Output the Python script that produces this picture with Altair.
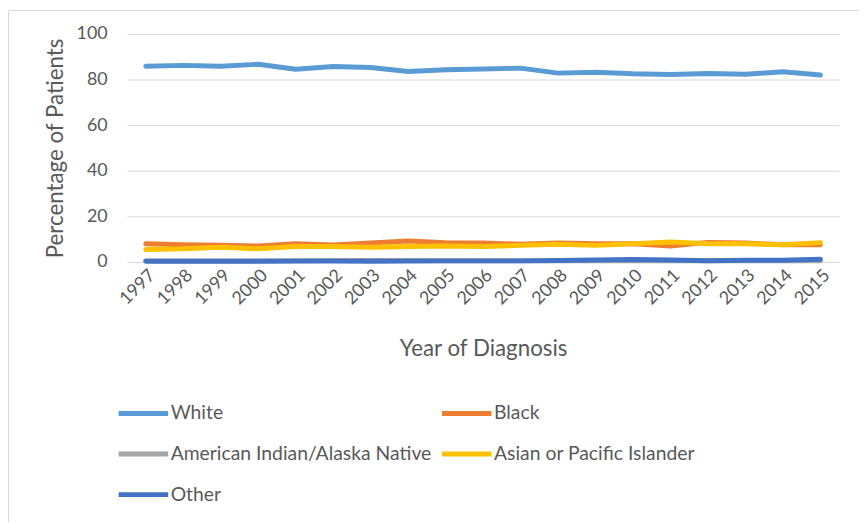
import altair as alt
import pandas as pd

years = [str(y) for y in range(1997, 2016)]
series = ["White", "Black", "American Indian/Alaska Native", "Asian or Pacific Islander", "Other"]
colors = ["#5B9BD5", "#ED7D31", "#A5A5A5", "#FFC000", "#4472C4"]

white = [85.8, 86.2, 85.8, 86.7, 84.5, 85.7, 85.3, 83.5, 84.3, 84.6, 85.0, 82.8, 83.2, 82.5, 82.2, 82.6, 82.3, 83.4, 82.0]
black = [8.0, 7.6, 7.4, 7.0, 8.0, 7.5, 8.3, 9.2, 8.5, 8.3, 7.8, 8.3, 8.0, 8.0, 7.0, 8.6, 8.3, 7.6, 7.6]
aian = [0.5, 0.5, 0.5, 0.5, 0.6, 0.7, 0.7, 0.7, 0.6, 0.6, 0.6, 0.6, 0.6, 0.6, 0.6, 0.6, 0.6, 0.6, 0.6]
asian = [5.5, 5.8, 6.5, 5.8, 6.8, 6.8, 6.5, 6.8, 7.0, 6.8, 7.3, 7.8, 7.3, 8.0, 8.8, 8.0, 8.0, 7.6, 8.5]
other = [0.3, 0.3, 0.3, 0.3, 0.4, 0.4, 0.3, 0.4, 0.5, 0.5, 0.5, 0.7, 0.9, 1.1, 0.9, 0.6, 0.8, 0.8, 1.2]

values = [white, black, aian, asian, other]
rows = []
for s, vals in zip(series, values):
    for y, v in zip(years, vals):
        rows.append({"Year": y, "Series": s, "Value": v})
df = pd.DataFrame(rows)

FONT = "Lato"
TXT = "#595959"

lines = alt.Chart(df).mark_line(strokeWidth=5, strokeCap="round", strokeJoin="round").encode(
    x=alt.X("Year:N", sort=years, title="Year of Diagnosis",
            scale=alt.Scale(paddingInner=0, paddingOuter=0.5),
            axis=alt.Axis(labelAngle=-45, ticks=False, domain=True, domainColor="#D9D9D9",
                          labelFontSize=18, labelPadding=4, titleFontSize=22.5,
                          titlePadding=30, grid=False)),
    y=alt.Y("Value:Q", title="Percentage of Patients",
            scale=alt.Scale(domain=[0, 100]),
            axis=alt.Axis(values=[0, 20, 40, 60, 80, 100], ticks=False, domain=False,
                          labelFontSize=18, labelPadding=20, titleFontSize=22.5,
                          titlePadding=9, gridColor="#D9D9D9")),
    color=alt.Color("Series:N", sort=series,
                    scale=alt.Scale(domain=series, range=colors),
                    legend=alt.Legend(title=None, orient="none", legendX=-11, legendY=355,
                                      direction="horizontal",
                                      columns=2, columnPadding=0, rowPadding=3,
                                      symbolType="stroke", symbolSize=2500,
                                      symbolStrokeWidth=5, labelFontSize=19.5,
                                      labelLimit=400,
                                      labelOffset=0, labelColor=TXT, labelFont=FONT)),
    detail="Series:N",
)

border = alt.Chart(pd.DataFrame({"a": [0]})).mark_rect(
    fill=None, stroke="#D9D9D9", strokeWidth=1
).encode(x=alt.value(-119.5), x2=alt.value(1000), y=alt.value(-23.5), y2=alt.value(700))

chart = alt.layer(border, lines).properties(
    width=718, height=230,
    padding={"left": 120, "top": 24, "right": 20, "bottom": 260},
    autosize=alt.AutoSizeParams(type="none"),
).configure_view(stroke=None).configure_axis(
    labelFont=FONT, titleFont=FONT, labelColor=TXT, titleColor=TXT,
    titleFontWeight="normal"
)

chart.save("out.html", embed_options={"renderer": "svg", "actions": False})
